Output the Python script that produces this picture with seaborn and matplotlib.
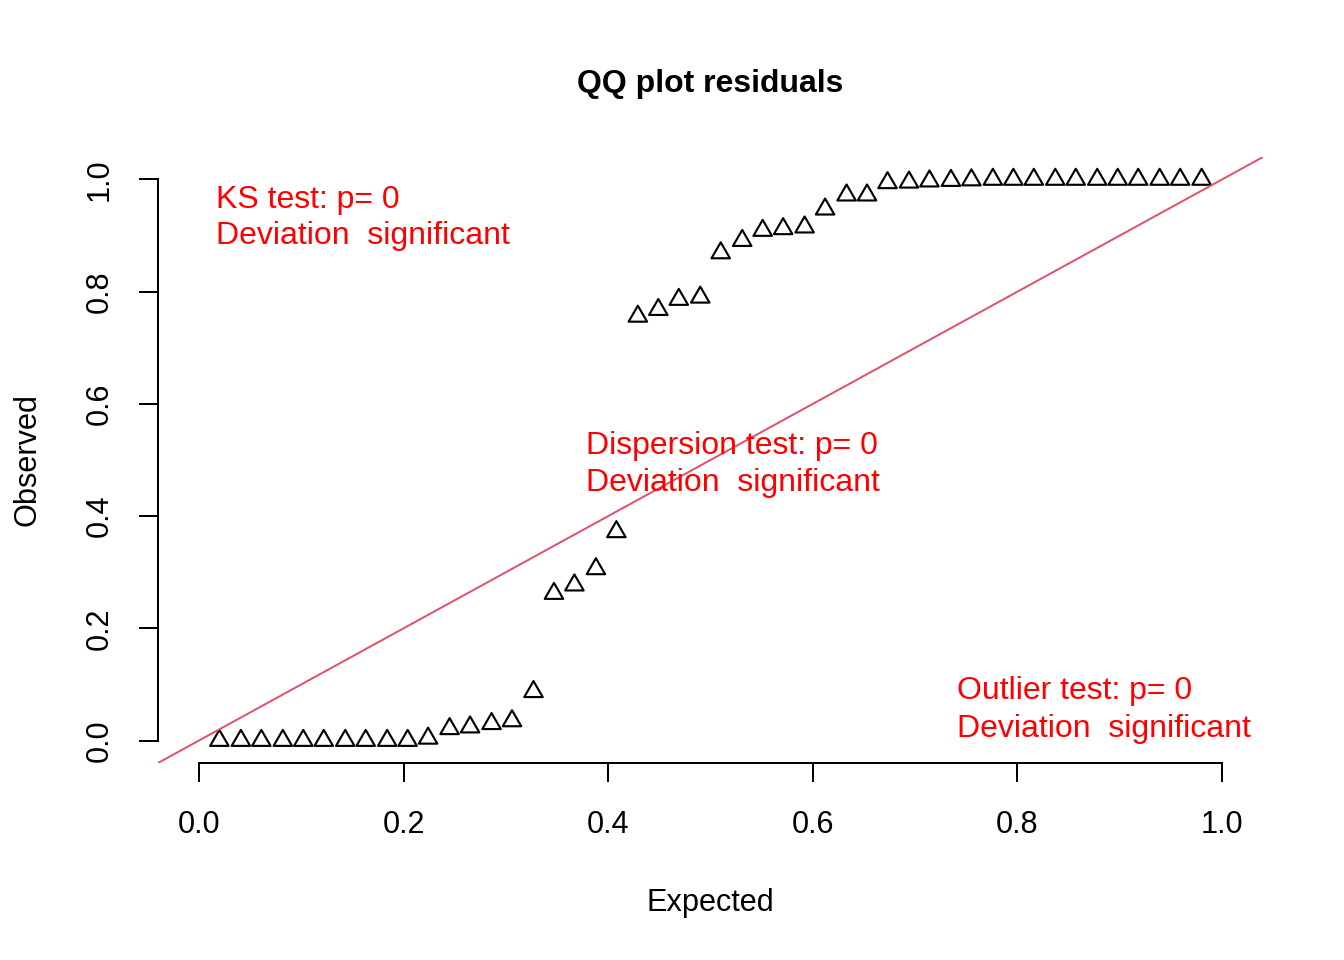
import matplotlib
matplotlib.use("Agg")
import matplotlib.pyplot as plt
from matplotlib.path import Path
import seaborn as sns
import pandas as pd

# ---- data ----
expected = [0.020, 0.041, 0.061, 0.082, 0.102, 0.122, 0.143, 0.163, 0.184, 0.204,
            0.224, 0.245, 0.265, 0.286, 0.306, 0.327, 0.347, 0.367, 0.388, 0.408,
            0.429, 0.449, 0.469, 0.490, 0.510, 0.531, 0.551, 0.571, 0.592, 0.612,
            0.633, 0.653, 0.673, 0.694, 0.714, 0.735, 0.755, 0.776, 0.796, 0.816,
            0.837, 0.857, 0.878, 0.898, 0.918, 0.939, 0.959, 0.980]
observed = [0.000, 0.000, 0.000, 0.000, 0.000, 0.000, 0.000, 0.000, 0.000, 0.000,
            0.004, 0.021, 0.024, 0.030, 0.035, 0.087, 0.262, 0.277, 0.306, 0.372,
            0.756, 0.768, 0.786, 0.790, 0.869, 0.891, 0.909, 0.912, 0.915, 0.947,
            0.972, 0.972, 0.994, 0.995, 0.997, 0.998, 0.999, 1.000, 1.000, 1.000,
            1.000, 1.000, 1.000, 1.000, 1.000, 1.000, 1.000, 1.000]
x_ticks = [0.0, 0.2, 0.4, 0.6, 0.8, 1.0]
y_ticks = [0.0, 0.2, 0.4, 0.6, 0.8, 1.0]
tick_labels = ["0.0", "0.2", "0.4", "0.6", "0.8", "1.0"]
title = "QQ plot residuals"
x_label = "Expected"
y_label = "Observed"
ks_lines = ["KS test: p= 0", "Deviation  significant"]
disp_lines = ["Dispersion test: p= 0", "Deviation  significant"]
out_lines = ["Outlier test: p= 0", "Deviation  significant"]

# ---- style ----
sns.set_style("ticks")
plt.rcParams["font.family"] = ["Liberation Sans", "DejaVu Sans"]
plt.rcParams["text.color"] = "black"
plt.rcParams["axes.labelcolor"] = "black"

fig = plt.figure(figsize=(7, 5), dpi=192)
ax = fig.add_axes([158 / 1344, 1 - 763 / 960, 1105 / 1344, 606 / 960])

tri = Path([(0, 1), (-0.8660254, -0.5), (0.8660254, -0.5), (0, 1)],
           [Path.MOVETO, Path.LINETO, Path.LINETO, Path.CLOSEPOLY])

df = pd.DataFrame({"Expected": expected, "Observed": observed})
sns.scatterplot(data=df, x="Expected", y="Observed", marker=tri, s=64,
                facecolors="none", edgecolor="black", linewidth=0.8,
                ax=ax, zorder=3)

ax.axline((0, 0), slope=1, color="#DF536B", lw=0.75, zorder=4)

ax.set_xlim(-0.04, 1.04)
ax.set_ylim(-0.04, 1.04)

ax.spines[["top", "right"]].set_visible(False)
for side in ("left", "bottom"):
    ax.spines[side].set_bounds(0, 1)
    ax.spines[side].set_linewidth(0.75)
    ax.spines[side].set_color("black")

ax.set_xticks(x_ticks, tick_labels)
ax.set_yticks(y_ticks, tick_labels, rotation=90, va="center")
ax.tick_params(direction="out", length=7.2, width=0.75, labelsize=11.5,
               color="black", labelcolor="black")
ax.tick_params(axis="x", pad=10.6)
ax.tick_params(axis="y", pad=8.9)

ax.set_xlabel(x_label, fontsize=11.5, va="baseline", color="black")
ax.xaxis.set_label_coords(0.5, -0.2443)
ax.set_ylabel(y_label, fontsize=11.5, va="baseline", color="black")
ax.yaxis.set_label_coords(-0.1113, 0.5)

ax.set_title(title, fontsize=12, fontweight="bold", y=1.108, pad=0,
             color="black")

red = "#FF0000"
for (x0, ys, lines) in [(0.0166, (0.9488, 0.8841), ks_lines),
                        (0.378, (0.5103, 0.4456), disp_lines),
                        (0.741, (0.0736, 0.0062), out_lines)]:
    for yy, s in zip(ys, lines):
        ax.text(x0, yy, s, color=red, fontsize=12, ha="left", va="baseline",
                zorder=5)

fig.savefig("out.png", dpi=192)
